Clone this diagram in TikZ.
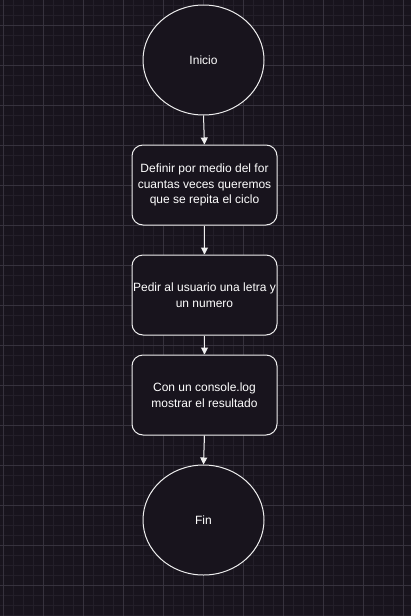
\documentclass[tikz,border=0pt]{standalone}
\usepackage{fontspec}
\setmainfont{Liberation Sans}
\usetikzlibrary{arrows.meta,shapes.geometric}
\definecolor{bg}{HTML}{18141D}
\definecolor{gminor}{HTML}{231F29}
\definecolor{gmajor}{HTML}{36323D}
\definecolor{stroke}{HTML}{EEEEEE}
\tikzset{
  term/.style={ellipse, draw=stroke, fill=bg, line width=1pt, minimum width=121pt, minimum height=110pt, inner sep=0pt, text=white, font=\fontsize{12}{14}\selectfont},
  procbox/.style={rectangle, rounded corners=11pt, draw=stroke, fill=bg, line width=1pt, minimum width=145pt, minimum height=80pt, inner sep=0pt, text=white, align=center, font=\fontsize{12}{15.5}\selectfont},
  flow/.style={draw=stroke, line width=1pt, -{Triangle[length=7pt,width=7pt]}}
}
\begin{document}
\begin{tikzpicture}[x=1pt,y=-1pt]
\useasboundingbox (0,0) rectangle (411,616);
\fill[bg] (0,0) rectangle (411,616);
\foreach \i in {0,...,41} {\draw[gminor,line width=0.8pt] (3.3+10*\i,0) -- (3.3+10*\i,616);}
\foreach \j in {0,...,61} {\draw[gminor,line width=0.8pt] (0,5+10*\j) -- (411,5+10*\j);}
\foreach \i in {0,...,10} {\draw[gmajor,line width=0.8pt] (3.3+40*\i,0) -- (3.3+40*\i,616);}
\foreach \j in {0,...,15} {\draw[gmajor,line width=0.8pt] (0,25+40*\j) -- (411,25+40*\j);}
\node[term] (inicio) at (203.5,60) {Inicio};
\node[procbox] (def) at (204.5,185) {Definir por medio del for\\cuantas veces queremos\\que se repita el ciclo};
\node[procbox] (pedir) at (204.5,295) {Pedir al usuario una letra y\\un numero};
\node[procbox] (con) at (204.5,395) {Con un console.log\\mostrar el resultado};
\node[term] (fin) at (203.5,520) {Fin};
\draw[flow] (inicio.south) -- (def.north);
\draw[flow] (def.south) -- (pedir.north);
\draw[flow] (pedir.south) -- (con.north);
\draw[flow] (con.south) -- (fin.north);
\end{tikzpicture}
\end{document}
